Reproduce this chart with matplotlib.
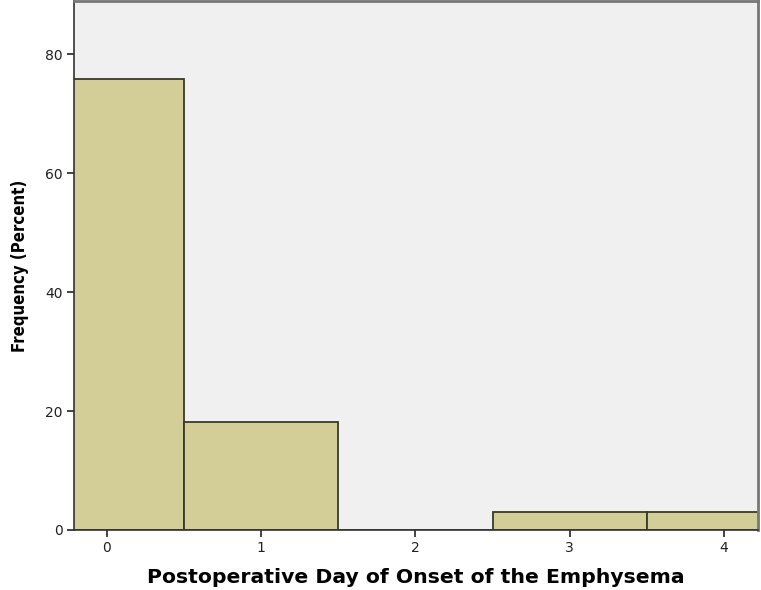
import numpy as np
import matplotlib
matplotlib.use('Agg')
import matplotlib.pyplot as plt

days = [0, 1, 2, 3, 4]
percent = [75.76, 18.18, 0.0, 3.03, 3.03]
y_ticks = [0, 20, 40, 60, 80]

fig = plt.figure(figsize=(7.61, 5.90), dpi=100)
ax = fig.add_axes([0.0972, 0.1017, 0.8988, 0.8963])
ax.set_facecolor('#f0f0f0')

ax.bar(days, percent, width=1.0, color='#d3ce97', edgecolor='#3a3a2a', linewidth=1.3)

ax.set_xlim(-0.214, 4.22)
ax.set_ylim(0, 88.9)
ax.set_xticks(days)
ax.set_yticks(y_ticks)
ax.tick_params(axis='both', direction='out', length=5, width=1.2, labelsize=10,
               colors='#222222', pad=3)

for s in ['left', 'bottom']:
    ax.spines[s].set_color('#333333')
    ax.spines[s].set_linewidth(1.2)
for s in ['top', 'right']:
    ax.spines[s].set_color('#777777')
    ax.spines[s].set_linewidth(2)

ax.set_xlabel('Postoperative Day of Onset of the Emphysema', fontsize=14.7,
              fontweight='bold', labelpad=9)
ax.set_ylabel('Frequency (Percent)', fontsize=12, fontweight='bold',
              fontstretch='condensed', labelpad=12)

fig.savefig('out.png', dpi=100)
